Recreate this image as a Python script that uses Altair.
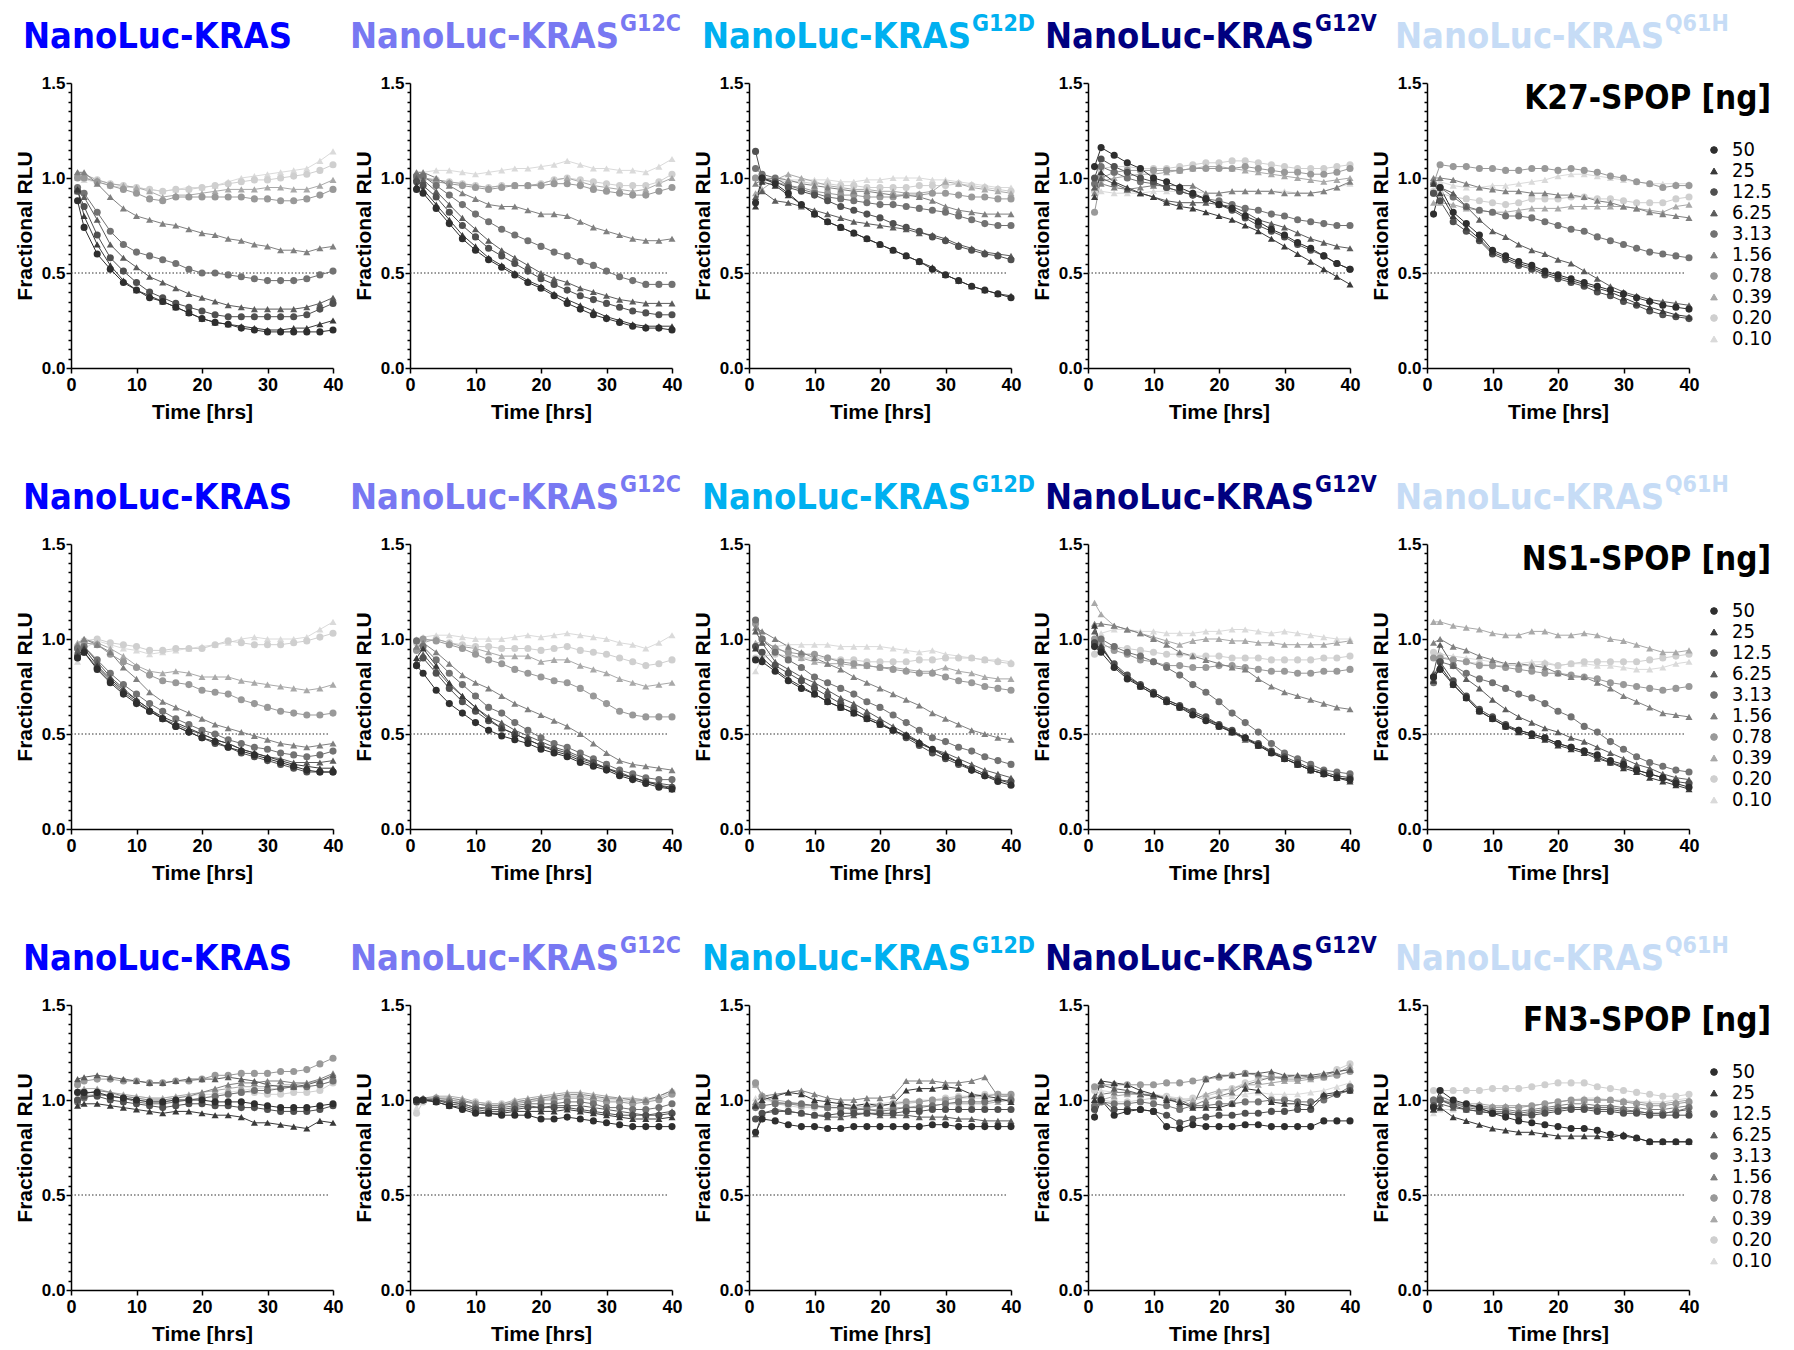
import altair as alt
import pandas as pd

# ---------------- data ----------------
HOURS = [1, 2, 4, 6, 8, 10, 12, 14, 16, 18, 20, 22, 24, 26, 28, 30, 32, 34, 36, 38, 40]
DOSES = ["50", "25", "12.5", "6.25", "3.13", "1.56", "0.78", "0.39", "0.20", "0.10"]
CONSTRUCTS = ["", "G12C", "G12D", "G12V", "Q61H"]
ROW_LABELS = ["K27-SPOP [ng]", "NS1-SPOP [ng]", "FN3-SPOP [ng]"]

# each panel: 10 series in DOSES order, values at HOURS
K27_WT = [
    [0.88,0.74,0.60,0.52,0.45,0.41,0.37,0.35,0.32,0.29,0.26,0.24,0.23,0.21,0.20,0.19,0.19,0.19,0.19,0.19,0.20],
    [0.94,0.80,0.65,0.54,0.46,0.41,0.38,0.35,0.32,0.29,0.26,0.24,0.23,0.22,0.21,0.20,0.20,0.21,0.21,0.23,0.25],
    [0.93,0.85,0.70,0.58,0.51,0.45,0.40,0.37,0.34,0.32,0.30,0.28,0.27,0.27,0.27,0.27,0.27,0.27,0.28,0.31,0.34],
    [0.93,0.90,0.78,0.65,0.58,0.53,0.48,0.45,0.42,0.39,0.37,0.35,0.33,0.32,0.31,0.31,0.31,0.31,0.32,0.34,0.37],
    [0.95,0.92,0.82,0.72,0.65,0.61,0.59,0.57,0.55,0.52,0.50,0.50,0.49,0.48,0.47,0.46,0.46,0.46,0.47,0.49,0.51],
    [1.03,1.03,0.97,0.90,0.84,0.80,0.78,0.76,0.75,0.73,0.71,0.70,0.68,0.67,0.65,0.64,0.62,0.62,0.61,0.63,0.64],
    [1.00,1.00,0.98,0.96,0.94,0.92,0.89,0.88,0.90,0.90,0.90,0.90,0.90,0.90,0.89,0.89,0.88,0.88,0.89,0.91,0.94],
    [1.03,1.02,0.99,0.97,0.96,0.95,0.93,0.90,0.91,0.91,0.92,0.93,0.94,0.94,0.94,0.95,0.95,0.94,0.94,0.96,0.99],
    [1.01,1.00,0.99,0.97,0.96,0.95,0.94,0.93,0.94,0.94,0.95,0.96,0.97,0.98,0.99,0.99,1.00,1.01,1.02,1.04,1.07],
    [1.00,0.99,0.98,0.96,0.95,0.95,0.94,0.93,0.94,0.95,0.95,0.96,0.98,1.00,1.01,1.02,1.03,1.04,1.05,1.09,1.14],
]
K27_G12C = [
    [0.94,0.92,0.84,0.76,0.68,0.62,0.57,0.53,0.49,0.45,0.42,0.38,0.34,0.31,0.28,0.26,0.24,0.22,0.21,0.21,0.20],
    [0.96,0.94,0.86,0.78,0.70,0.64,0.58,0.54,0.50,0.46,0.43,0.39,0.36,0.33,0.30,0.27,0.25,0.23,0.22,0.22,0.22],
    [0.98,0.96,0.90,0.82,0.75,0.69,0.63,0.59,0.55,0.51,0.47,0.44,0.41,0.38,0.36,0.34,0.32,0.30,0.29,0.28,0.28],
    [1.00,0.99,0.93,0.86,0.79,0.73,0.67,0.62,0.58,0.54,0.50,0.47,0.45,0.42,0.40,0.38,0.36,0.35,0.34,0.34,0.34],
    [1.01,1.01,0.96,0.91,0.86,0.81,0.77,0.73,0.70,0.67,0.64,0.61,0.59,0.56,0.54,0.51,0.48,0.46,0.44,0.44,0.44],
    [1.03,1.03,1.00,0.96,0.92,0.89,0.86,0.85,0.85,0.83,0.81,0.81,0.80,0.77,0.74,0.72,0.70,0.68,0.67,0.67,0.68],
    [1.00,1.00,0.98,0.97,0.96,0.95,0.94,0.95,0.96,0.96,0.96,0.97,0.97,0.96,0.94,0.93,0.92,0.91,0.91,0.93,0.95],
    [1.00,1.00,0.99,0.98,0.97,0.96,0.95,0.96,0.96,0.96,0.97,0.99,1.00,0.98,0.96,0.95,0.94,0.93,0.94,0.97,1.00],
    [1.00,1.00,0.99,0.98,0.97,0.96,0.95,0.96,0.96,0.96,0.97,0.99,1.00,0.99,0.98,0.97,0.96,0.96,0.96,0.98,1.02],
    [1.03,1.03,1.04,1.04,1.03,1.02,1.03,1.04,1.05,1.05,1.06,1.07,1.09,1.07,1.05,1.05,1.04,1.04,1.03,1.06,1.10],
]
K27_G12D = [
    [0.87,1.00,0.97,0.92,0.86,0.81,0.77,0.74,0.71,0.68,0.65,0.62,0.59,0.56,0.52,0.49,0.46,0.43,0.41,0.39,0.37],
    [0.85,0.98,0.96,0.91,0.86,0.81,0.77,0.74,0.71,0.68,0.65,0.62,0.59,0.56,0.53,0.49,0.46,0.43,0.41,0.39,0.38],
    [1.14,1.00,0.98,0.95,0.93,0.91,0.88,0.85,0.83,0.81,0.79,0.76,0.74,0.72,0.69,0.67,0.64,0.62,0.60,0.59,0.57],
    [0.90,0.93,0.88,0.87,0.85,0.83,0.81,0.79,0.77,0.76,0.75,0.74,0.73,0.71,0.70,0.68,0.65,0.63,0.61,0.60,0.59],
    [1.05,1.02,1.00,0.96,0.94,0.92,0.90,0.89,0.88,0.87,0.86,0.86,0.85,0.84,0.83,0.82,0.80,0.78,0.76,0.75,0.75],
    [0.97,0.99,1.00,0.99,0.97,0.96,0.95,0.94,0.93,0.93,0.92,0.91,0.91,0.90,0.88,0.85,0.83,0.82,0.81,0.81,0.81],
    [1.00,0.99,0.98,0.96,0.95,0.93,0.92,0.91,0.91,0.90,0.90,0.90,0.91,0.91,0.92,0.92,0.91,0.90,0.90,0.89,0.89],
    [0.92,0.94,0.99,1.02,1.00,0.98,0.96,0.95,0.94,0.94,0.93,0.93,0.92,0.92,0.93,0.98,0.97,0.95,0.94,0.93,0.92],
    [1.00,1.00,0.99,0.98,0.98,0.97,0.97,0.96,0.96,0.95,0.95,0.95,0.95,0.96,0.96,0.96,0.97,0.96,0.95,0.94,0.93],
    [1.00,1.00,1.00,0.99,0.99,0.99,0.99,0.98,0.98,0.99,0.99,1.00,1.00,1.00,0.99,0.99,0.98,0.97,0.96,0.95,0.95],
]
K27_G12V = [
    [1.06,1.16,1.12,1.08,1.05,1.00,0.98,0.95,0.92,0.89,0.86,0.84,0.80,0.77,0.73,0.70,0.66,0.63,0.59,0.55,0.52],
    [0.90,1.03,0.98,0.95,0.92,0.90,0.87,0.85,0.84,0.82,0.80,0.78,0.75,0.72,0.68,0.64,0.60,0.56,0.52,0.48,0.44],
    [1.00,1.10,1.06,1.03,1.00,0.98,0.95,0.93,0.91,0.89,0.86,0.83,0.79,0.75,0.72,0.69,0.65,0.62,0.59,0.55,0.52],
    [0.95,1.00,0.97,0.94,0.92,0.90,0.88,0.87,0.87,0.87,0.86,0.85,0.82,0.78,0.76,0.74,0.71,0.68,0.66,0.64,0.63],
    [0.97,1.06,1.03,1.00,0.98,0.97,0.95,0.93,0.91,0.89,0.88,0.86,0.84,0.83,0.81,0.80,0.78,0.77,0.76,0.75,0.75],
    [0.92,0.97,0.95,0.94,0.95,0.96,0.96,0.96,0.96,0.92,0.92,0.93,0.93,0.93,0.93,0.92,0.92,0.92,0.93,0.95,0.98],
    [0.82,1.00,1.03,1.04,1.04,1.04,1.04,1.04,1.05,1.05,1.05,1.05,1.06,1.05,1.04,1.03,1.03,1.02,1.02,1.03,1.05],
    [0.95,0.98,1.00,1.01,1.02,1.02,1.03,1.04,1.05,1.06,1.06,1.05,1.04,1.03,1.02,1.01,1.00,0.99,0.98,0.99,1.00],
    [0.93,1.05,1.06,1.06,1.05,1.05,1.05,1.06,1.07,1.08,1.08,1.09,1.09,1.08,1.07,1.06,1.05,1.05,1.05,1.06,1.07],
    [0.92,0.93,0.92,0.92,0.92,0.93,0.93,0.93,0.93,0.92,0.92,0.93,0.93,0.93,0.93,0.93,0.92,0.92,0.93,0.95,0.97],
]
K27_Q61H = [
    [0.81,0.95,0.82,0.76,0.70,0.62,0.59,0.56,0.54,0.51,0.49,0.47,0.45,0.43,0.41,0.39,0.37,0.35,0.33,0.32,0.31],
    [0.97,0.92,0.80,0.74,0.68,0.61,0.58,0.55,0.53,0.50,0.48,0.46,0.44,0.42,0.40,0.37,0.34,0.32,0.30,0.28,0.27],
    [0.92,0.88,0.77,0.72,0.67,0.60,0.57,0.54,0.52,0.49,0.47,0.45,0.43,0.40,0.38,0.35,0.33,0.30,0.28,0.27,0.26],
    [0.98,0.95,0.92,0.85,0.78,0.72,0.69,0.65,0.62,0.60,0.57,0.55,0.51,0.47,0.43,0.40,0.38,0.36,0.35,0.34,0.33],
    [0.92,0.95,0.90,0.85,0.83,0.82,0.80,0.80,0.79,0.77,0.75,0.73,0.72,0.69,0.67,0.65,0.63,0.61,0.60,0.59,0.58],
    [1.00,1.00,0.99,0.97,0.95,0.94,0.93,0.93,0.92,0.92,0.91,0.91,0.90,0.88,0.87,0.85,0.84,0.82,0.81,0.80,0.79],
    [0.97,1.07,1.06,1.06,1.05,1.05,1.04,1.04,1.05,1.05,1.04,1.05,1.04,1.03,1.01,1.00,0.98,0.97,0.95,0.96,0.96],
    [0.87,0.87,0.86,0.84,0.83,0.82,0.82,0.83,0.84,0.84,0.84,0.85,0.85,0.85,0.85,0.85,0.84,0.83,0.82,0.85,0.86],
    [0.93,0.92,0.90,0.89,0.88,0.87,0.86,0.87,0.89,0.89,0.89,0.90,0.90,0.89,0.89,0.88,0.87,0.87,0.87,0.89,0.90],
    [0.99,0.98,0.96,0.95,0.95,0.96,0.96,0.97,0.98,0.99,1.01,1.02,1.02,1.01,1.00,0.99,0.98,0.97,0.97,0.97,0.97],
]
NS1_WT = [
    [0.90,0.93,0.84,0.77,0.71,0.66,0.62,0.58,0.54,0.51,0.48,0.46,0.43,0.41,0.39,0.37,0.35,0.33,0.31,0.30,0.30],
    [0.91,0.95,0.86,0.79,0.73,0.68,0.63,0.59,0.56,0.53,0.50,0.47,0.45,0.42,0.40,0.38,0.36,0.34,0.33,0.32,0.32],
    [0.91,0.93,0.85,0.78,0.72,0.67,0.62,0.58,0.54,0.51,0.48,0.45,0.43,0.40,0.38,0.36,0.34,0.32,0.30,0.30,0.30],
    [0.94,0.96,0.88,0.80,0.74,0.68,0.63,0.58,0.55,0.52,0.50,0.47,0.45,0.42,0.40,0.38,0.37,0.35,0.35,0.35,0.36],
    [0.95,0.96,0.89,0.82,0.76,0.71,0.66,0.62,0.58,0.55,0.52,0.50,0.47,0.45,0.43,0.42,0.40,0.39,0.38,0.39,0.41],
    [0.97,1.00,0.97,0.93,0.85,0.79,0.72,0.67,0.64,0.61,0.58,0.55,0.53,0.51,0.49,0.47,0.45,0.44,0.43,0.44,0.45],
    [0.95,0.98,0.97,0.92,0.88,0.85,0.81,0.78,0.77,0.76,0.73,0.72,0.71,0.68,0.66,0.64,0.62,0.61,0.60,0.60,0.61],
    [0.98,1.00,0.98,0.95,0.91,0.86,0.83,0.82,0.83,0.82,0.80,0.80,0.80,0.78,0.77,0.76,0.75,0.74,0.73,0.74,0.76],
    [0.96,0.99,1.00,0.98,0.97,0.96,0.94,0.94,0.95,0.95,0.95,0.97,0.99,0.98,0.97,0.97,0.97,0.98,0.99,1.01,1.03],
    [0.88,0.95,0.99,0.97,0.95,0.94,0.92,0.93,0.94,0.95,0.96,0.97,0.98,1.00,1.01,1.00,1.00,1.00,1.01,1.05,1.09],
]
NS1_G12C = [
    [0.86,0.82,0.73,0.66,0.61,0.56,0.52,0.49,0.47,0.45,0.42,0.40,0.38,0.35,0.33,0.31,0.28,0.26,0.24,0.22,0.21],
    [0.90,0.95,0.86,0.77,0.70,0.64,0.58,0.53,0.50,0.47,0.44,0.41,0.39,0.36,0.34,0.32,0.29,0.27,0.25,0.23,0.21],
    [0.86,0.90,0.82,0.74,0.67,0.62,0.57,0.53,0.50,0.47,0.44,0.42,0.40,0.37,0.35,0.32,0.29,0.27,0.25,0.23,0.22],
    [0.88,0.92,0.84,0.76,0.70,0.64,0.59,0.56,0.52,0.49,0.46,0.43,0.41,0.38,0.35,0.32,0.30,0.27,0.25,0.24,0.23],
    [0.99,0.96,0.89,0.82,0.76,0.70,0.64,0.61,0.56,0.52,0.48,0.45,0.43,0.40,0.37,0.34,0.31,0.29,0.27,0.26,0.26],
    [0.96,0.98,0.93,0.87,0.81,0.77,0.74,0.70,0.66,0.63,0.60,0.57,0.54,0.50,0.45,0.40,0.36,0.34,0.33,0.32,0.31],
    [0.94,1.00,0.99,0.97,0.95,0.92,0.89,0.87,0.84,0.82,0.80,0.78,0.77,0.74,0.70,0.66,0.62,0.60,0.59,0.59,0.59],
    [0.95,0.98,1.00,0.98,0.96,0.95,0.93,0.91,0.91,0.91,0.88,0.89,0.89,0.86,0.84,0.82,0.79,0.77,0.75,0.76,0.77],
    [0.98,0.99,1.00,0.98,0.97,0.96,0.96,0.95,0.95,0.95,0.94,0.95,0.96,0.94,0.93,0.92,0.90,0.88,0.86,0.87,0.89],
    [1.00,1.01,1.02,1.02,1.01,1.00,1.00,1.00,1.01,1.02,1.01,1.02,1.03,1.02,1.01,1.00,0.98,0.97,0.95,0.98,1.02],
]
NS1_G12D = [
    [0.89,0.88,0.83,0.78,0.74,0.71,0.67,0.64,0.61,0.58,0.55,0.52,0.49,0.45,0.42,0.38,0.35,0.31,0.28,0.25,0.23],
    [0.95,0.90,0.84,0.79,0.75,0.71,0.67,0.64,0.61,0.58,0.55,0.52,0.49,0.46,0.42,0.39,0.35,0.32,0.29,0.26,0.24],
    [0.96,0.93,0.86,0.82,0.78,0.74,0.70,0.66,0.63,0.59,0.56,0.52,0.48,0.44,0.40,0.37,0.34,0.31,0.28,0.26,0.25],
    [1.04,0.98,0.88,0.84,0.80,0.77,0.73,0.69,0.66,0.62,0.58,0.54,0.50,0.46,0.42,0.40,0.37,0.34,0.31,0.29,0.27],
    [1.10,1.00,0.93,0.89,0.85,0.80,0.77,0.74,0.71,0.67,0.64,0.60,0.56,0.52,0.48,0.46,0.43,0.41,0.38,0.36,0.34],
    [1.06,1.04,1.00,0.96,0.93,0.90,0.87,0.84,0.80,0.77,0.74,0.71,0.68,0.65,0.61,0.58,0.55,0.52,0.50,0.48,0.47],
    [1.08,1.00,0.95,0.93,0.92,0.92,0.90,0.88,0.87,0.86,0.85,0.84,0.83,0.82,0.82,0.80,0.78,0.77,0.75,0.74,0.73],
    [0.98,0.98,0.96,0.92,0.90,0.88,0.87,0.87,0.86,0.86,0.85,0.85,0.84,0.83,0.83,0.85,0.83,0.82,0.80,0.79,0.79],
    [0.90,0.91,0.92,0.91,0.90,0.90,0.90,0.89,0.89,0.88,0.88,0.88,0.88,0.89,0.89,0.90,0.90,0.90,0.89,0.88,0.87],
    [0.83,0.90,0.96,0.97,0.97,0.97,0.97,0.96,0.96,0.96,0.96,0.95,0.94,0.93,0.94,0.92,0.91,0.90,0.89,0.89,0.88],
]
NS1_G12V = [
    [0.96,0.93,0.85,0.79,0.75,0.71,0.67,0.64,0.60,0.57,0.54,0.51,0.48,0.44,0.40,0.37,0.34,0.31,0.29,0.27,0.26],
    [1.07,0.96,0.86,0.80,0.76,0.72,0.68,0.65,0.61,0.58,0.55,0.51,0.48,0.44,0.41,0.37,0.34,0.31,0.29,0.27,0.25],
    [0.98,0.95,0.87,0.81,0.76,0.72,0.68,0.65,0.62,0.59,0.55,0.52,0.48,0.45,0.41,0.38,0.35,0.32,0.30,0.28,0.27],
    [1.04,0.97,0.86,0.80,0.75,0.71,0.67,0.64,0.61,0.58,0.54,0.51,0.47,0.44,0.40,0.37,0.34,0.31,0.29,0.27,0.26],
    [0.98,1.00,0.96,0.93,0.91,0.88,0.85,0.81,0.76,0.72,0.67,0.61,0.56,0.51,0.45,0.40,0.37,0.34,0.31,0.30,0.29],
    [1.08,1.08,1.07,1.05,1.03,1.00,0.97,0.93,0.91,0.89,0.87,0.85,0.84,0.79,0.75,0.72,0.70,0.68,0.66,0.64,0.63],
    [1.00,0.98,0.94,0.92,0.89,0.88,0.86,0.86,0.85,0.85,0.86,0.86,0.85,0.84,0.83,0.83,0.82,0.82,0.83,0.83,0.84],
    [1.19,1.13,1.07,1.05,1.03,1.01,0.99,0.97,0.99,1.00,1.00,0.99,0.99,0.98,0.98,0.97,0.97,0.97,0.97,0.98,0.99],
    [0.92,0.96,0.96,0.95,0.94,0.93,0.92,0.92,0.91,0.91,0.91,0.90,0.90,0.90,0.89,0.89,0.89,0.89,0.90,0.90,0.91],
    [1.00,1.03,1.05,1.05,1.04,1.04,1.03,1.03,1.03,1.04,1.04,1.05,1.05,1.04,1.03,1.04,1.03,1.02,1.01,1.00,1.00],
]
NS1_Q61H = [
    [0.80,0.84,0.76,0.69,0.62,0.58,0.54,0.52,0.50,0.48,0.45,0.43,0.41,0.39,0.36,0.34,0.31,0.29,0.27,0.24,0.22],
    [0.78,0.86,0.76,0.69,0.62,0.58,0.54,0.51,0.49,0.47,0.44,0.42,0.40,0.37,0.35,0.32,0.30,0.27,0.25,0.23,0.21],
    [0.80,0.88,0.78,0.70,0.63,0.59,0.55,0.52,0.50,0.48,0.45,0.43,0.41,0.38,0.35,0.33,0.31,0.29,0.27,0.25,0.24],
    [0.82,0.97,0.86,0.79,0.74,0.68,0.63,0.59,0.56,0.53,0.51,0.48,0.46,0.43,0.40,0.37,0.34,0.32,0.29,0.27,0.26],
    [0.77,0.88,0.86,0.82,0.79,0.77,0.74,0.71,0.69,0.66,0.62,0.59,0.54,0.51,0.46,0.42,0.38,0.35,0.33,0.31,0.30],
    [0.98,1.00,0.96,0.94,0.91,0.89,0.87,0.87,0.86,0.85,0.82,0.80,0.80,0.77,0.74,0.70,0.67,0.64,0.61,0.60,0.59],
    [0.90,0.90,0.89,0.88,0.86,0.86,0.85,0.84,0.83,0.82,0.82,0.81,0.80,0.79,0.77,0.76,0.75,0.74,0.73,0.74,0.75],
    [1.09,1.09,1.07,1.06,1.05,1.03,1.02,1.02,1.04,1.04,1.02,1.02,1.03,1.02,1.00,0.99,0.97,0.95,0.93,0.93,0.94],
    [0.93,0.91,0.89,0.88,0.87,0.86,0.86,0.86,0.86,0.87,0.86,0.87,0.88,0.88,0.88,0.88,0.88,0.89,0.90,0.91,0.92],
    [0.92,0.92,0.91,0.90,0.89,0.88,0.87,0.87,0.88,0.88,0.86,0.87,0.87,0.86,0.86,0.85,0.84,0.84,0.85,0.87,0.88],
]
FN3_WT = [
    [1.04,1.04,1.04,1.02,1.01,1.00,0.99,0.99,1.00,1.00,1.00,0.99,0.99,0.99,0.98,0.97,0.96,0.96,0.96,0.97,0.98],
    [0.97,0.98,0.98,0.97,0.96,0.95,0.94,0.93,0.94,0.94,0.93,0.92,0.92,0.91,0.88,0.88,0.87,0.86,0.85,0.89,0.88],
    [1.00,1.02,1.02,1.00,0.99,0.98,0.97,0.96,0.97,0.98,0.98,0.97,0.97,0.96,0.96,0.95,0.94,0.94,0.94,0.95,0.97],
    [1.11,1.12,1.13,1.12,1.11,1.10,1.09,1.09,1.10,1.11,1.11,1.11,1.12,1.11,1.10,1.08,1.07,1.07,1.08,1.10,1.13],
    [0.99,1.01,1.03,1.02,1.01,0.99,0.98,0.98,0.99,1.00,1.01,1.02,1.03,1.04,1.05,1.05,1.06,1.07,1.07,1.08,1.10],
    [1.00,1.03,1.05,1.04,1.02,1.01,1.00,1.00,1.01,1.02,1.04,1.06,1.08,1.09,1.09,1.10,1.10,1.09,1.09,1.11,1.14],
    [1.08,1.10,1.11,1.11,1.10,1.10,1.09,1.09,1.10,1.10,1.11,1.13,1.13,1.14,1.14,1.14,1.15,1.15,1.16,1.19,1.22],
    [1.05,1.06,1.06,1.04,1.03,1.02,1.01,1.01,1.02,1.03,1.04,1.05,1.06,1.07,1.07,1.07,1.08,1.08,1.09,1.10,1.12],
    [1.00,1.02,1.03,1.02,1.01,1.00,0.99,0.99,1.00,1.00,1.01,1.02,1.03,1.04,1.04,1.03,1.03,1.04,1.04,1.05,1.09],
    [1.02,1.03,1.03,1.03,1.02,1.02,1.01,1.01,1.02,1.02,1.03,1.03,1.04,1.05,1.06,1.06,1.06,1.07,1.07,1.08,1.10],
]
FN3_G12C = [
    [1.00,1.00,0.99,0.97,0.95,0.93,0.93,0.92,0.92,0.92,0.90,0.90,0.91,0.90,0.89,0.88,0.87,0.86,0.86,0.86,0.86],
    [1.00,1.00,0.99,0.97,0.96,0.94,0.93,0.93,0.94,0.94,0.94,0.94,0.95,0.94,0.93,0.92,0.91,0.90,0.90,0.90,0.91],
    [0.99,1.00,1.00,0.98,0.97,0.95,0.94,0.94,0.95,0.96,0.96,0.96,0.96,0.95,0.94,0.93,0.92,0.92,0.92,0.92,0.93],
    [1.00,1.00,1.00,0.99,0.98,0.96,0.95,0.95,0.96,0.97,0.96,0.97,0.97,0.97,0.96,0.95,0.94,0.93,0.92,0.93,0.94],
    [1.00,1.00,1.00,0.99,0.98,0.96,0.96,0.96,0.97,0.98,0.98,0.98,0.99,0.99,0.98,0.96,0.96,0.95,0.95,0.96,0.98],
    [1.00,1.01,1.01,1.01,1.00,0.98,0.97,0.97,0.99,1.00,1.01,1.02,1.03,1.03,1.02,1.01,1.01,1.00,1.00,1.02,1.05],
    [1.00,1.00,1.01,1.00,0.99,0.98,0.97,0.97,0.98,0.99,1.00,1.00,1.01,1.01,1.00,0.99,0.99,0.98,0.99,1.00,1.03],
    [1.00,1.01,1.02,1.02,1.01,0.99,0.98,0.98,1.00,1.01,1.02,1.03,1.04,1.04,1.03,1.02,1.01,1.01,1.00,1.02,1.05],
    [0.93,0.99,1.00,1.00,0.99,0.99,0.98,0.98,0.99,0.99,1.00,1.01,1.02,1.02,1.01,1.00,1.00,0.99,1.00,1.01,1.04],
    [0.96,1.00,1.00,1.00,0.99,0.99,0.98,0.98,0.99,1.00,1.01,1.01,1.02,1.02,1.01,1.01,1.00,0.99,1.00,1.01,1.04],
]
FN3_G12D = [
    [0.83,0.90,0.89,0.87,0.86,0.86,0.85,0.85,0.86,0.86,0.86,0.86,0.86,0.86,0.87,0.87,0.86,0.86,0.86,0.86,0.86],
    [0.97,1.00,1.02,1.04,1.03,1.00,0.99,0.98,0.97,0.98,0.97,0.98,1.05,1.06,1.06,1.07,1.06,1.03,1.02,1.01,0.99],
    [0.90,0.93,0.94,0.94,0.93,0.92,0.92,0.93,0.93,0.93,0.93,0.93,0.94,0.94,0.95,0.95,0.95,0.95,0.95,0.95,0.95],
    [0.82,0.93,0.95,0.94,0.93,0.92,0.91,0.91,0.92,0.93,0.92,0.92,0.92,0.91,0.91,0.91,0.90,0.90,0.89,0.89,0.89],
    [0.96,0.97,0.98,0.98,0.98,0.97,0.96,0.96,0.95,0.95,0.94,0.95,0.96,0.96,0.97,0.98,0.99,0.99,0.99,1.00,1.00],
    [0.99,1.02,1.03,1.04,1.05,1.03,1.01,1.00,1.00,1.01,1.01,1.02,1.10,1.10,1.10,1.09,1.09,1.10,1.12,1.02,1.02],
    [1.09,1.02,0.99,0.98,0.97,0.97,0.96,0.96,0.95,0.96,0.97,0.98,0.99,0.99,1.00,1.00,1.01,1.02,1.02,1.03,1.03],
    [1.08,1.03,1.00,0.99,0.98,0.97,0.96,0.96,0.96,0.95,0.95,0.96,0.96,0.97,0.97,0.98,0.98,0.98,0.98,0.99,1.00],
    [1.08,1.02,0.98,0.97,0.96,0.96,0.96,0.96,0.96,0.97,0.97,0.98,0.98,0.99,1.00,1.01,1.02,1.02,1.03,1.03,1.02],
    [1.01,1.00,0.99,0.98,0.97,0.97,0.97,0.97,0.97,0.98,0.98,0.99,0.99,1.00,1.00,1.01,1.01,1.01,1.01,1.00,1.00],
]
FN3_G12V = [
    [0.91,1.00,0.92,0.94,0.95,0.94,0.86,0.85,0.87,0.86,0.86,0.86,0.87,0.87,0.86,0.86,0.86,0.86,0.89,0.89,0.89],
    [1.00,1.10,1.09,1.08,1.05,1.03,1.00,0.99,0.96,0.96,0.96,0.98,1.06,1.05,0.99,0.98,0.98,0.97,1.03,1.04,1.05],
    [0.95,1.00,0.95,0.95,0.95,0.94,0.92,0.88,0.90,0.91,0.92,0.92,0.93,0.93,0.94,0.94,0.95,0.95,1.02,1.03,1.05],
    [1.02,1.08,1.06,1.05,1.03,1.02,1.01,0.98,0.97,1.11,1.13,1.13,1.14,1.14,1.15,1.13,1.13,1.13,1.14,1.15,1.16],
    [0.97,0.99,0.98,0.98,0.99,0.98,0.97,0.95,0.97,0.97,0.98,0.98,0.99,0.99,1.00,1.00,0.99,0.99,1.00,1.03,1.07],
    [1.00,1.03,1.04,1.04,1.03,1.03,1.01,1.00,0.97,1.00,1.02,1.04,1.08,1.10,1.12,1.12,1.13,1.12,1.13,1.15,1.16],
    [1.07,1.08,1.08,1.08,1.08,1.08,1.09,1.09,1.10,1.11,1.12,1.13,1.14,1.13,1.12,1.11,1.11,1.12,1.12,1.13,1.15],
    [0.98,1.00,1.02,1.03,1.03,1.02,1.01,0.99,1.00,1.03,1.05,1.06,1.08,1.08,1.09,1.10,1.10,1.11,1.12,1.14,1.18],
    [1.05,1.00,0.99,0.99,1.00,1.01,1.02,1.00,1.01,1.02,1.04,1.06,1.09,1.11,1.12,1.12,1.12,1.12,1.13,1.16,1.19],
    [1.06,1.05,1.04,1.04,1.03,1.03,1.02,1.01,1.00,1.01,1.02,1.02,1.03,1.04,1.03,1.03,1.03,1.04,1.05,1.07,1.09],
]
FN3_Q61H = [
    [0.96,1.05,1.00,0.98,0.96,0.93,0.91,0.89,0.88,0.87,0.86,0.85,0.85,0.84,0.82,0.81,0.80,0.78,0.78,0.78,0.78],
    [0.95,0.96,0.91,0.89,0.87,0.85,0.84,0.83,0.83,0.82,0.81,0.81,0.81,0.81,0.80,0.82,0.80,0.78,0.78,0.78,0.78],
    [0.97,1.00,0.97,0.95,0.94,0.93,0.93,0.92,0.92,0.93,0.94,0.95,0.95,0.94,0.94,0.93,0.93,0.92,0.92,0.92,0.92],
    [0.95,0.98,0.96,0.95,0.94,0.93,0.93,0.92,0.93,0.94,0.95,0.96,0.96,0.95,0.95,0.94,0.94,0.93,0.93,0.94,0.95],
    [1.00,1.00,0.98,0.96,0.95,0.94,0.94,0.93,0.94,0.95,0.96,0.96,0.96,0.96,0.96,0.95,0.94,0.93,0.93,0.94,0.96],
    [1.00,1.02,0.99,0.97,0.96,0.95,0.95,0.94,0.95,0.96,0.97,0.98,0.98,0.97,0.97,0.96,0.96,0.95,0.95,0.96,0.97],
    [1.00,1.00,0.98,0.97,0.97,0.96,0.96,0.96,0.97,0.98,0.99,1.00,1.00,1.00,1.00,0.99,0.98,0.97,0.97,0.98,0.99],
    [0.98,1.00,0.99,0.98,0.98,0.97,0.97,0.97,0.97,0.98,0.99,1.00,1.00,1.00,1.00,0.99,0.99,0.98,0.98,0.99,1.00],
    [1.05,1.05,1.05,1.05,1.05,1.06,1.06,1.06,1.07,1.08,1.09,1.09,1.09,1.07,1.06,1.05,1.04,1.03,1.02,1.02,1.03],
    [0.93,0.95,0.95,0.96,0.96,0.96,0.97,0.97,0.97,0.98,0.99,1.00,1.01,1.01,1.00,1.00,0.99,0.99,0.99,1.00,1.01],
]

PANELS = [
    [K27_WT, K27_G12C, K27_G12D, K27_G12V, K27_Q61H],
    [NS1_WT, NS1_G12C, NS1_G12D, NS1_G12V, NS1_Q61H],
    [FN3_WT, FN3_G12C, FN3_G12D, FN3_G12V, FN3_Q61H],
]

# ---------------- style ----------------
GRAYS = ["#2e2e2e", "#3a3a3a", "#505050", "#5c5c5c", "#727272",
         "#808080", "#999999", "#a9a9a9", "#cfcfcf", "#dadada"]
SHAPES = ["circle", "triangle-up"] * 5
TITLE_COLORS = ["#0000ff", "#7878f2", "#00b0f0", "#000080", "#c6dcf6"]
TITLE_END = [221, 209, 222, 226, 237]
NARROW = "DejaVu Sans Condensed"
SANS = "Liberation Sans"
W, H = 262, 285

COLOR_SCALE = alt.Scale(domain=DOSES, range=GRAYS)
SHAPE_SCALE = alt.Scale(domain=DOSES, range=SHAPES)

MAJOR = "abs(datum.value*2 - round(datum.value*2)) < 0.001"
Y_TICKS = [round(i * 0.05, 2) for i in range(31)]

X_AXIS = alt.Axis(values=[0, 10, 20, 30, 40], title="Time [hrs]", tickSize=5,
                  labelFont=SANS, labelFontSize=18, labelFontWeight="bold",
                  labelPadding=3, labelFlush=False,
                  titleFont=SANS, titleFontSize=21, titleFontWeight="bold", titlePadding=7)
Y_AXIS = alt.Axis(values=Y_TICKS, title="Fractional RLU",
                  tickSize={"condition": {"test": MAJOR, "value": 5}, "value": 3},
                  labelExpr=MAJOR + " ? format(datum.value, '.1f') : ''",
                  labelOverlap=False, labelFont=SANS, labelFontSize=17,
                  labelFontWeight="bold", labelPadding=1,
                  titleFont=SANS, titleFontSize=21, titleFontWeight="bold", titlePadding=6)

LEGEND = alt.Legend(title=None, orient="none", legendX=277, legendY=57,
                    labelFont=NARROW, labelFontSize=20, labelColor="black",
                    symbolSize=45, symbolStrokeWidth=1, rowPadding=1,
                    labelOffset=8, padding=0)


def make_panel(series, row, col):
    recs = []
    for i in reversed(range(len(DOSES))):
        for h, v in zip(HOURS, series[i]):
            recs.append({"hour": h, "dose": DOSES[i], "value": v})
    df = pd.DataFrame(recs)

    x = alt.X("hour:Q", scale=alt.Scale(domain=[0, 40], nice=False), axis=X_AXIS)
    y = alt.Y("value:Q", scale=alt.Scale(domain=[0, 1.5], nice=False), axis=Y_AXIS)
    leg = LEGEND if col == 4 else None

    lines = alt.Chart(df).mark_line(strokeWidth=1).encode(
        x=x, y=y, color=alt.Color("dose:N", scale=COLOR_SCALE, legend=leg))
    points = alt.Chart(df).mark_point(filled=True, size=50, opacity=1).encode(
        x=x, y=y,
        color=alt.Color("dose:N", scale=COLOR_SCALE, legend=leg),
        shape=alt.Shape("dose:N", scale=SHAPE_SCALE, legend=leg))

    ref_df = pd.DataFrame({"x0": [0], "x1": [39.5], "y0": [0.5]})
    ref = alt.Chart(ref_df).mark_rule(strokeDash=[1.5, 2], color="#333333", strokeWidth=1.2).encode(
        x=alt.X("x0:Q", scale=alt.Scale(domain=[0, 40], nice=False), axis=X_AXIS),
        x2="x1:Q",
        y=alt.Y("y0:Q", scale=alt.Scale(domain=[0, 1.5], nice=False), axis=Y_AXIS))

    tdf = pd.DataFrame({"main": ["NanoLuc-KRAS"], "sup": [CONSTRUCTS[col]], "row": [ROW_LABELS[row]]})
    main_t = alt.Chart(tdf).mark_text(align="right", baseline="alphabetic", font=NARROW,
                                      fontWeight="bold", fontSize=36, color=TITLE_COLORS[col]).encode(
        x=alt.value(TITLE_END[col]), y=alt.value(-35), text="main:N")
    layers = [ref, lines, points, main_t]
    if CONSTRUCTS[col]:
        sup_t = alt.Chart(tdf).mark_text(align="left", baseline="alphabetic", font=NARROW,
                                         fontWeight="bold", fontSize=23, color=TITLE_COLORS[col]).encode(
            x=alt.value(TITLE_END[col] + 1), y=alt.value(-52), text="sup:N")
        layers.append(sup_t)
    if col == 4:
        row_t = alt.Chart(tdf).mark_text(align="right", baseline="alphabetic", font=NARROW,
                                         fontWeight="bold", fontSize=33, color="black").encode(
            x=alt.value(344), y=alt.value(26), text="row:N")
        layers.append(row_t)
    return alt.layer(*layers).properties(width=W, height=H)


def indep(ch):
    return ch.resolve_scale(color="independent", shape="independent").resolve_legend(
        color="independent", shape="independent")


rows = []
for r in range(3):
    panels = [make_panel(PANELS[r][c], r, c) for c in range(5)]
    rows.append(indep(alt.hconcat(*panels, spacing=77, bounds="flush")))

chart = indep(alt.vconcat(*rows, spacing=52)).properties(
    padding={"left": 6, "top": 5, "right": 5, "bottom": 0}
).configure_view(strokeWidth=0).configure_axis(
    grid=False, domainColor="black", domainWidth=1.5, tickColor="black", tickWidth=1.5,
    labelColor="black", titleColor="black"
)

chart.save("out.html", embed_options={"renderer": "svg", "actions": False})
